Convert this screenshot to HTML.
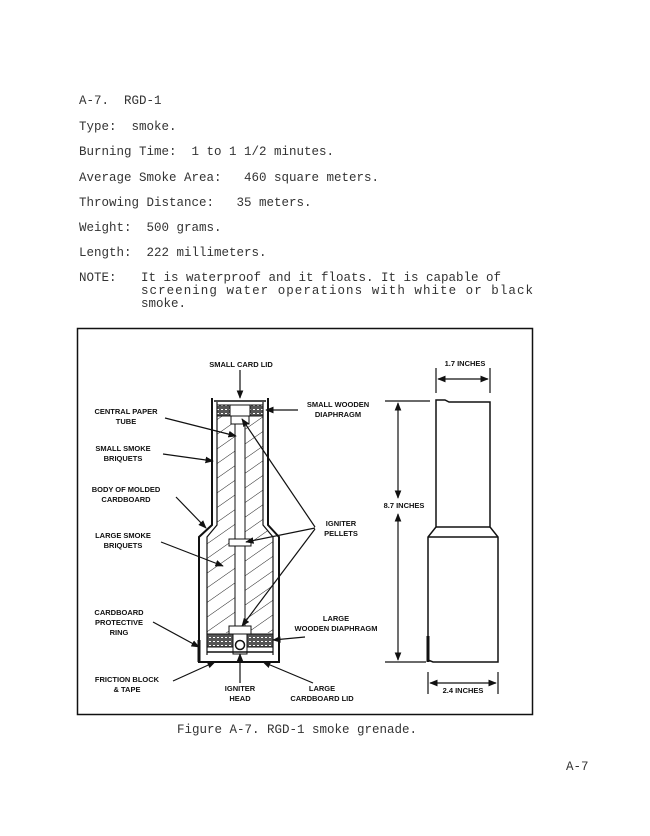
<!DOCTYPE html>
<html><head><meta charset="utf-8"><style>
html,body{margin:0;padding:0;background:#fff;}
svg{display:block;}
.m{font-family:"Liberation Mono",monospace;font-size:12.5px;fill:#333;white-space:pre;}
.l{font-family:"Liberation Sans",sans-serif;font-size:7.5px;font-weight:bold;fill:#111;text-anchor:middle;}
</style></head><body>
<svg width="650" height="836" viewBox="0 0 650 836" xmlns="http://www.w3.org/2000/svg" xml:space="preserve">
<defs>
<pattern id="h" patternUnits="userSpaceOnUse" width="12" height="12" patternTransform="rotate(-35)">
<line x1="0" y1="0" x2="12" y2="0" stroke="#222" stroke-width="1"/>
</pattern>
<pattern id="dots" patternUnits="userSpaceOnUse" width="4" height="4">
<rect width="4" height="4" fill="#555"/><rect x="1" y="1" width="2" height="1" fill="#fff"/>
</pattern>
<marker id="a" viewBox="0 0 10 10" refX="9" refY="5" markerWidth="7" markerHeight="7" orient="auto-start-reverse"><path d="M0,1 L10,5 L0,9z" fill="#111"/></marker>
</defs>
<text class="m" x="79" y="104">A-7.  RGD-1</text>
<text class="m" x="79" y="130">Type:  smoke.</text>
<text class="m" x="79" y="155">Burning Time:  1 to 1 1/2 minutes.</text>
<text class="m" x="79" y="181">Average Smoke Area:   460 square meters.</text>
<text class="m" x="79" y="206">Throwing Distance:   35 meters.</text>
<text class="m" x="79" y="231">Weight:  500 grams.</text>
<text class="m" x="79" y="256">Length:  222 millimeters.</text>
<text class="m" x="79" y="281">NOTE:</text>
<text class="m" x="141" y="281">It is waterproof and it floats. It is capable of</text>
<text class="m" x="141" y="294" textLength="392">screening water operations with white or black</text>
<text class="m" x="141" y="307">smoke.</text>

<rect x="77.5" y="328.5" width="455" height="386" fill="none" stroke="#111" stroke-width="1.5"/>

<path d="M217,405 L263,405 L263,525 L273,537 L273,633 L207,633 L207,537 L217,525 Z" fill="url(#h)"/>
<rect x="235" y="405" width="10" height="228" fill="#fff" stroke="#111"/>
<path d="M212,398 L212,525 L199,537 L199,662 L279,662 L279,537 L268,525 L268,398" fill="none" stroke="#111" stroke-width="2"/>
<path d="M217,402 L217,525 L207,537 L207,655 M263,402 L263,525 L273,537 L273,655" fill="none" stroke="#111" stroke-width="1.2"/>
<line x1="214" y1="401" x2="266" y2="401" stroke="#111" stroke-width="1.5"/>
<rect x="217" y="405" width="46" height="11" fill="url(#dots)" stroke="#111"/>
<rect x="230" y="405" width="20" height="11" fill="#fff" stroke="#111"/>
<rect x="231" y="416" width="18" height="8" fill="#fff" stroke="#111"/>
<rect x="229" y="539" width="22" height="7" fill="#fff" stroke="#111"/>
<rect x="229" y="626" width="22" height="8" fill="#fff" stroke="#111"/>
<rect x="207" y="634" width="66" height="13" fill="url(#dots)" stroke="#111"/>
<rect x="233" y="634" width="14" height="20" fill="#fff" stroke="#111"/>
<circle cx="240" cy="645" r="4.5" fill="#fff" stroke="#111" stroke-width="1.5"/>
<line x1="207" y1="652" x2="273" y2="652" stroke="#111" stroke-width="1.5"/>
<line x1="199" y1="640" x2="199" y2="662" stroke="#111" stroke-width="3"/>

<g class="l">
<text x="241" y="367">SMALL CARD LID</text>
<text x="126" y="414">CENTRAL PAPER</text><text x="126" y="424">TUBE</text>
<text x="123" y="451">SMALL SMOKE</text><text x="123" y="461">BRIQUETS</text>
<text x="126" y="492">BODY OF MOLDED</text><text x="126" y="502">CARDBOARD</text>
<text x="123" y="538">LARGE SMOKE</text><text x="123" y="548">BRIQUETS</text>
<text x="119" y="615">CARDBOARD</text><text x="119" y="625">PROTECTIVE</text><text x="119" y="635">RING</text>
<text x="127" y="682">FRICTION BLOCK</text><text x="127" y="692">&amp; TAPE</text>
<text x="240" y="691">IGNITER</text><text x="240" y="701">HEAD</text>
<text x="322" y="691">LARGE</text><text x="322" y="701">CARDBOARD LID</text>
<text x="338" y="407">SMALL WOODEN</text><text x="338" y="417">DIAPHRAGM</text>
<text x="341" y="526">IGNITER</text><text x="341" y="536">PELLETS</text>
<text x="336" y="621">LARGE</text><text x="336" y="631">WOODEN DIAPHRAGM</text>
<text x="404" y="508">8.7 INCHES</text>
<text x="465" y="366">1.7 INCHES</text>
<text x="463" y="693">2.4 INCHES</text>
</g>
<g stroke="#111" stroke-width="1.2" fill="none" marker-end="url(#a)">
<line x1="240" y1="370" x2="240" y2="398"/>
<line x1="165" y1="418" x2="236" y2="436"/>
<line x1="163" y1="454" x2="213" y2="461"/>
<line x1="176" y1="497" x2="206" y2="528"/>
<line x1="161" y1="542" x2="223" y2="566"/>
<line x1="153" y1="622" x2="199" y2="647"/>
<line x1="173" y1="681" x2="215" y2="662"/>
<line x1="240" y1="683" x2="240" y2="654"/>
<line x1="313" y1="683" x2="263" y2="662"/>
<line x1="298" y1="410" x2="266" y2="410"/>
<line x1="315" y1="527" x2="242" y2="419"/>
<line x1="315" y1="528" x2="246" y2="542"/>
<line x1="315" y1="529" x2="242" y2="626"/>
<line x1="305" y1="637" x2="273" y2="640"/>
</g>

<path d="M436,400 L445,400 L449,402 L490,402 L490,527 L498,537 L498,662 L433,662 L428,660 L428,537 L436,527 Z" fill="none" stroke="#111" stroke-width="1.5"/>
<line x1="436" y1="527" x2="490" y2="527" stroke="#111" stroke-width="1.5"/>
<line x1="428" y1="537" x2="498" y2="537" stroke="#111" stroke-width="1.5"/>
<line x1="428" y1="636" x2="428" y2="662" stroke="#111" stroke-width="3"/>
<g stroke="#111" stroke-width="1.2">
<line x1="385" y1="401" x2="430" y2="401"/>
<line x1="385" y1="662" x2="426" y2="662"/>
<line x1="436" y1="368" x2="436" y2="393"/>
<line x1="490" y1="368" x2="490" y2="393"/>
<line x1="428" y1="672" x2="428" y2="694"/>
<line x1="498" y1="672" x2="498" y2="694"/>
</g>
<g stroke="#111" stroke-width="1.2" marker-start="url(#a)" marker-end="url(#a)">
<line x1="398" y1="403" x2="398" y2="498"/>
<line x1="398" y1="514" x2="398" y2="660"/>
<line x1="438" y1="379" x2="488" y2="379"/>
<line x1="430" y1="683" x2="496" y2="683"/>
</g>

<text class="m" x="177" y="733">Figure A-7. RGD-1 smoke grenade.</text>
<text class="m" x="566" y="770">A-7</text>
</svg>
</body></html>
